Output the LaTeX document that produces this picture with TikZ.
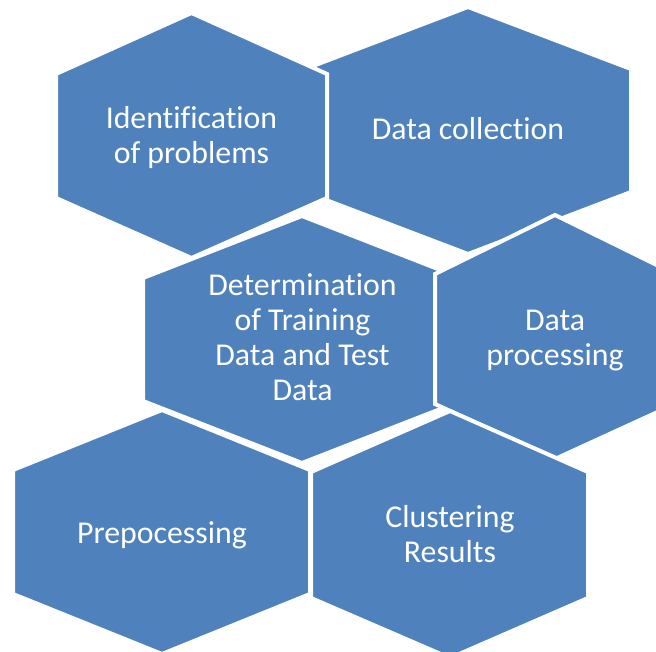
\documentclass[tikz,border=0pt]{standalone}
\usepackage{fontspec}
\setmainfont[Ligatures=NoCommon]{Carlito}
\definecolor{hexblue}{HTML}{4F81BD}
\tikzset{
  hexbox/.style={fill=hexblue, draw=white, line width=4pt, line join=miter},
  hexlabel/.style={text=white, align=center, inner sep=0pt,
                   font=\fontsize{31.8}{35}\selectfont}
}
\begin{document}
\begin{tikzpicture}[x=1pt,y=-1pt]
\useasboundingbox (0,0) rectangle (656,652);
\begin{scope}
\clip (0,0) rectangle (656,652);
% Data collection (lies under the first cell)
\draw[hexbox] (468,7) -- (631,69) -- (631,192) -- (468,254) -- (305,192) -- (305,69) -- cycle;
% Identification of problems
\draw[hexbox] (191.5,13) -- (327,74) -- (327,198) -- (191.5,258) -- (56,198) -- (56,74) -- cycle;
% Determination of training and test data
\draw[hexbox] (302,216) -- (461,278) -- (461,401) -- (302,463) -- (143,401) -- (143,278) -- cycle;
% Data processing (runs past the right edge)
\draw[hexbox] (555,215) -- (675,274) -- (675,404) -- (555,459) -- (435,404) -- (435,274) -- cycle;
% Prepocessing
\draw[hexbox] (162,410) -- (310,470) -- (310,594) -- (162,654) -- (13,594) -- (13,470) -- cycle;
% Clustering results
\draw[hexbox] (450,411) -- (588,472) -- (588,598) -- (450,658) -- (311,598) -- (311,472) -- cycle;
\end{scope}
\node[hexlabel] (ident) at (191.5,138) {Identification\\of problems};
\node[hexlabel] (collect) at (468,129) {Data collection};
\node[hexlabel] (determ) at (302.5,336.7) {Determination\\of Training\\Data and Test\\Data};
\node[hexlabel] (proc) at (555,340.6) {Data\\processing};
\node[hexlabel] (prep) at (162,535) {Prepocessing};
\node[hexlabel] (clust) at (450,533.6) {Clustering\\Results};
\end{tikzpicture}
\end{document}
